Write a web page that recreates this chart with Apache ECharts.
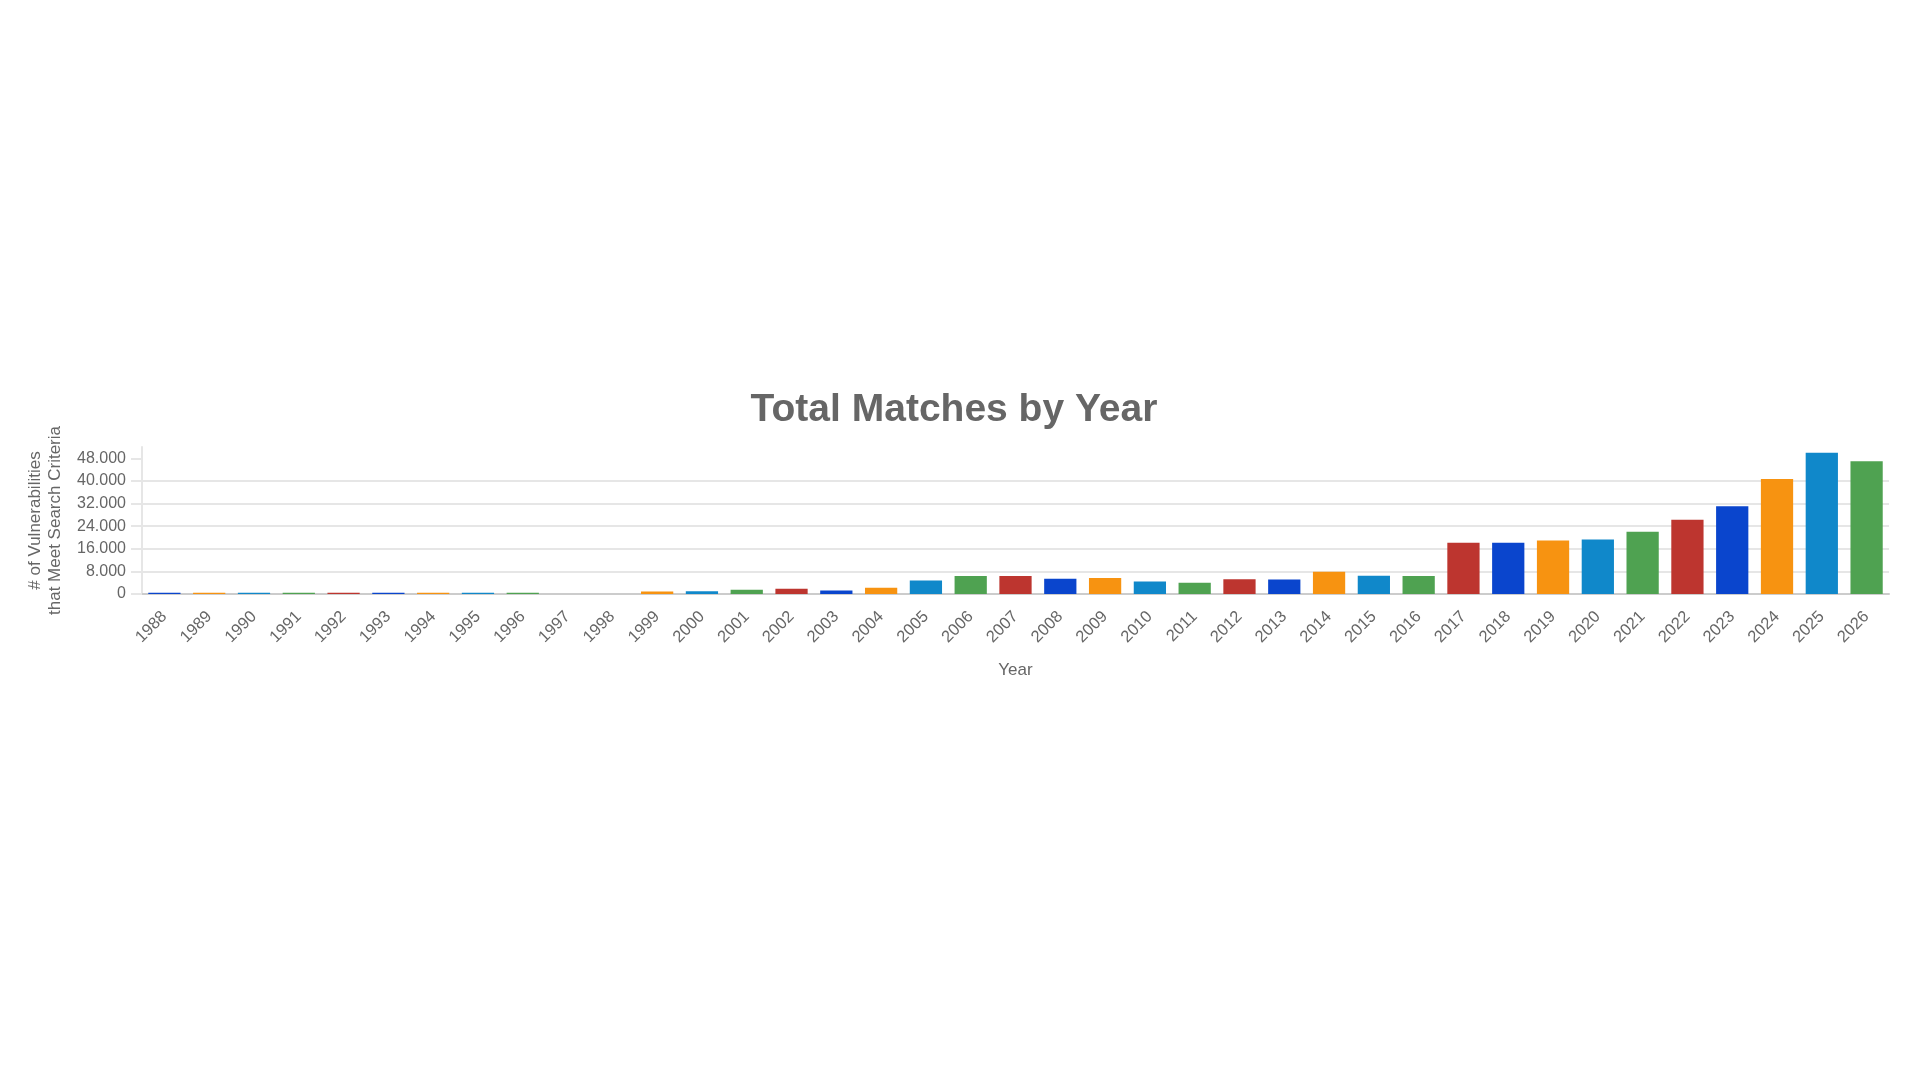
<!DOCTYPE html>
<html>
<head>
<meta charset="utf-8">
<script src="https://cdn.jsdelivr.net/npm/echarts@6/dist/echarts.min.js"></script>
<style>
html,body{margin:0;padding:0;background:#fff;}
#chart{width:1920px;height:1080px;}
</style>
</head>
<body>
<div id="chart"></div>
<script>
const years = ['1988','1989','1990','1991','1992','1993','1994','1995','1996','1997','1998','1999','2000','2001','2002','2003','2004','2005','2006','2007','2008','2009','2010','2011','2012','2013','2014','2015','2016','2017','2018','2019','2020','2021','2022','2023','2024','2025','2026'];
const totals = [400,400,400,400,400,400,400,400,400,0,0,850,1000,1500,1900,1200,2200,4800,6400,6400,5400,5700,4400,4000,5200,5100,7900,6500,6400,18100,18100,18900,19300,22000,26300,31000,40700,50000,47000];
const yTicks = [0,8000,16000,24000,32000,40000,48000];
const palette = ['#0a45cd','#f79311','#1088ca','#4fa251','#bd352f'];

const FONT = '"Liberation Sans", Arial, Helvetica, sans-serif';
const chart = echarts.init(document.getElementById('chart'));
chart.setOption({
  animation: false,
  color: palette,
  textStyle: { fontFamily: FONT },
  title: {
    text: 'Total Matches by Year',
    left: 954,
    textAlign: 'center',
    top: 391,
    padding: 0,
    textStyle: { fontFamily: FONT, fontSize: 39, fontWeight: 'bold', color: '#666666' }
  },
  grid: { left: 142, right: 31, top: 447, bottom: 486, containLabel: false },
  xAxis: {
    type: 'category',
    data: years,
    name: 'Year',
    nameLocation: 'middle',
    nameGap: 68,
    nameTextStyle: { fontFamily: FONT, fontSize: 17, color: '#666666' },
    axisLine: { lineStyle: { color: '#cccccc', width: 2 } },
    axisTick: { show: false },
    axisLabel: { rotate: 45, fontSize: 16.5, color: '#666666', margin: 20, interval: 0, fontFamily: FONT }
  },
  yAxis: {
    type: 'value',
    min: 0,
    max: 52000,
    interval: 8000,
    name: '# of Vulnerabilities\nthat Meet Search Criteria',
    nameLocation: 'middle',
    nameGap: 77,
    nameTextStyle: { fontFamily: FONT, fontSize: 17, color: '#666666', lineHeight: 20 },
    axisLine: { show: true, lineStyle: { color: '#e6e6e6', width: 2 } },
    axisTick: { show: true, length: 11, lineStyle: { color: '#e6e6e6', width: 2 }, customValues: yTicks },
    splitLine: { show: true, showMaxLine: false, lineStyle: { color: '#e6e6e6', width: 2 } },
    axisLabel: {
      customValues: yTicks,
      fontSize: 16, color: '#666666', margin: 16, fontFamily: FONT,
      formatter: v => String(v).replace(/\B(?=(\d{3})+(?!\d))/g, '.')
    }
  },
  series: [{
    type: 'bar',
    colorBy: 'data',
    data: totals,
    barCategoryGap: '28%'
  }]
});
</script>
</body>
</html>
